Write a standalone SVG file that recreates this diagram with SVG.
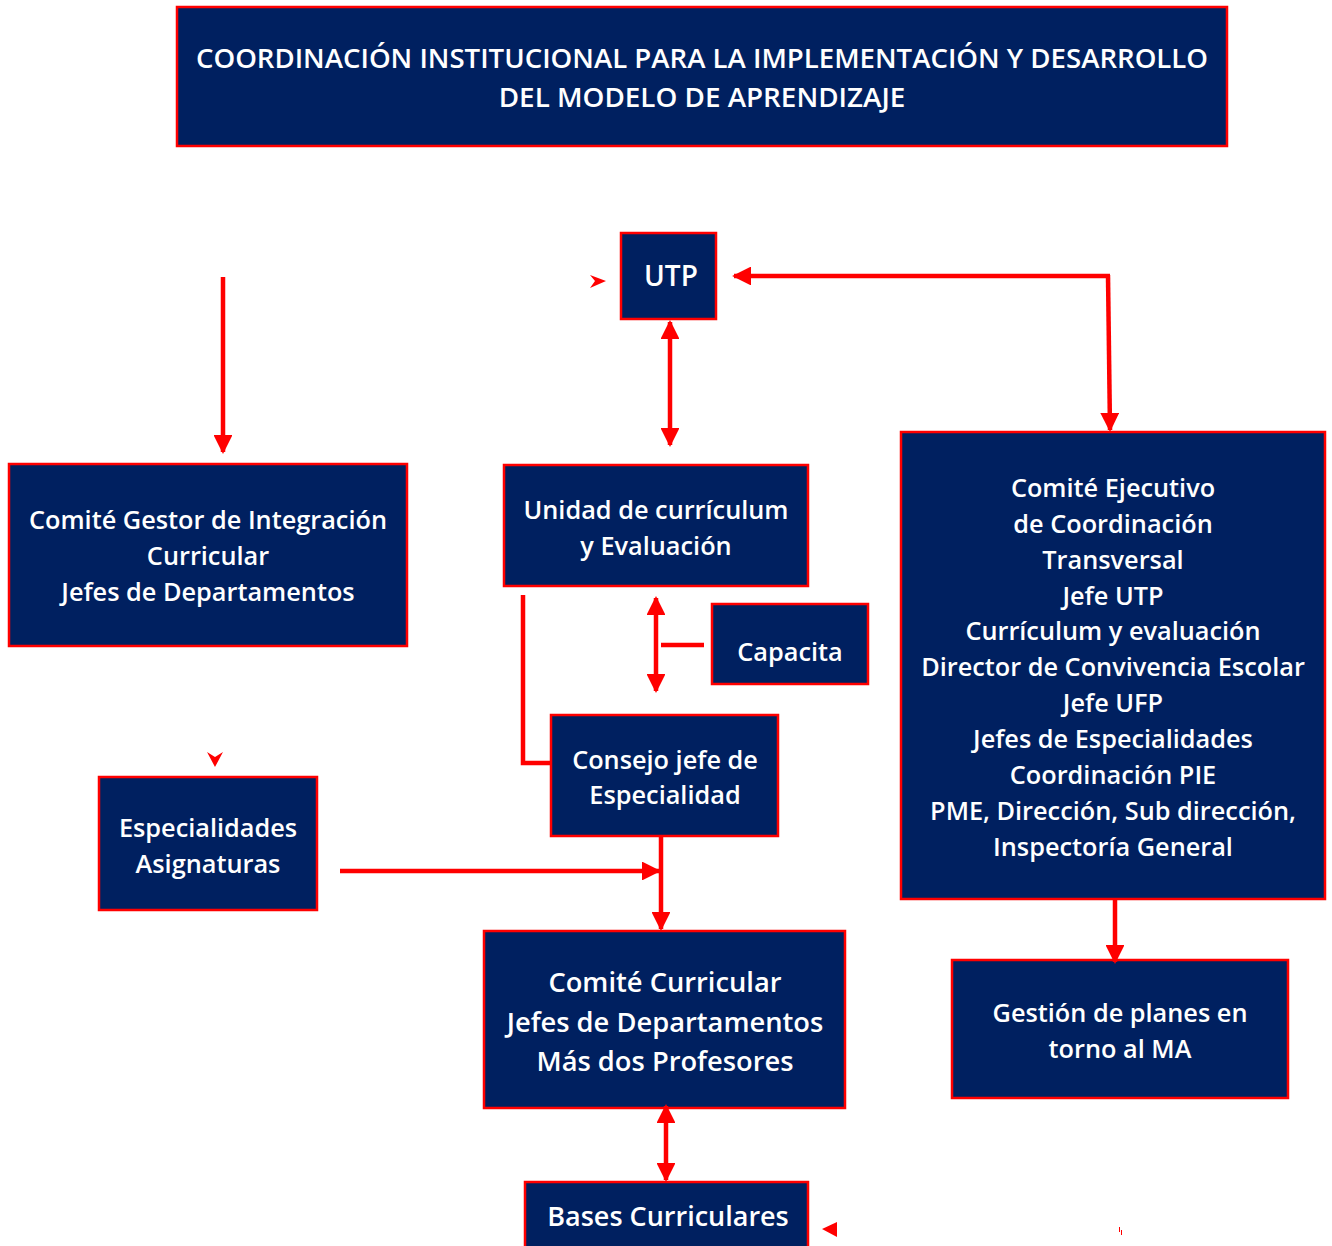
<svg xmlns="http://www.w3.org/2000/svg" width="1332" height="1246" viewBox="0 0 1332 1246">
<style>
.box{fill:#002060;stroke:#ff0000;stroke-width:2.5}
.t{font-family:"Open Sans","Noto Sans","DejaVu Sans",sans-serif;font-weight:600;fill:#ffffff;text-anchor:middle}
.c{stroke:#ff0000;stroke-width:4.5;fill:none}
.h{fill:#ff0000}
</style>
<defs>
<marker id="ah" viewBox="0 0 10 10" refX="9" refY="5" markerWidth="4.2" markerHeight="4.2" orient="auto-start-reverse">
<path d="M0,0 L10,5 L0,10 z" fill="#ff0000"/>
</marker>
</defs>
<rect width="1332" height="1246" fill="#ffffff"/>
<g id="title">
<rect class="box" x="177" y="7" width="1050" height="139"/>
<text class="t" x="702" y="68" font-size="27.6">COORDINACIÓN INSTITUCIONAL PARA LA IMPLEMENTACIÓN Y DESARROLLO</text>
<text class="t" x="702" y="107" font-size="27.8">DEL MODELO DE APRENDIZAJE</text>
</g>
<g id="utp">
<rect class="box" x="621" y="233" width="95" height="86"/>
<text class="t" x="671" y="286" font-size="28">UTP</text>
</g>
<g id="gestor">
<rect class="box" x="9" y="464" width="398" height="182"/>
<text class="t" font-size="25.3"><tspan x="208" y="529">Comité Gestor de Integración</tspan><tspan x="208" y="565">Curricular</tspan><tspan x="208" y="601">Jefes de Departamentos</tspan></text>
</g>
<g id="unidad">
<rect class="box" x="504" y="465" width="304" height="121"/>
<text class="t" font-size="25.3"><tspan x="656" y="519">Unidad de currículum</tspan><tspan x="656" y="555">y Evaluación</tspan></text>
</g>
<g id="capacita">
<rect class="box" x="712" y="604" width="156" height="80"/>
<text class="t" x="790" y="661" font-size="25.3">Capacita</text>
</g>
<g id="consejo">
<rect class="box" x="551" y="715" width="227" height="121"/>
<text class="t" font-size="25.3"><tspan x="665" y="769">Consejo jefe de</tspan><tspan x="665" y="804">Especialidad</tspan></text>
</g>
<g id="especialidades">
<rect class="box" x="99" y="777" width="218" height="133"/>
<text class="t" font-size="25.3"><tspan x="208" y="837">Especialidades</tspan><tspan x="208" y="873">Asignaturas</tspan></text>
</g>
<g id="curricular">
<rect class="box" x="484" y="931" width="361" height="177"/>
<text class="t" font-size="27.3"><tspan x="665" y="992">Comité Curricular</tspan><tspan x="665" y="1032">Jefes de Departamentos</tspan><tspan x="665" y="1071">Más dos Profesores</tspan></text>
</g>
<g id="bases">
<rect class="box" x="525" y="1182" width="283" height="70"/>
<text class="t" x="668" y="1226" font-size="27">Bases Curriculares</text>
</g>
<g id="ejecutivo">
<rect class="box" x="901" y="432" width="424" height="467"/>
<text class="t" font-size="25.3"><tspan x="1113" y="497">Comité Ejecutivo</tspan><tspan x="1113" y="533">de Coordinación</tspan><tspan x="1113" y="569">Transversal</tspan><tspan x="1113" y="605">Jefe UTP</tspan><tspan x="1113" y="640">Currículum y evaluación</tspan><tspan x="1113" y="676">Director de Convivencia Escolar</tspan><tspan x="1113" y="712">Jefe UFP</tspan><tspan x="1113" y="748">Jefes de Especialidades</tspan><tspan x="1113" y="784">Coordinación PIE</tspan><tspan x="1113" y="820">PME, Dirección, Sub dirección,</tspan><tspan x="1113" y="856">Inspectoría General</tspan></text>
</g>
<g id="gestion">
<rect class="box" x="952" y="960" width="336" height="138"/>
<text class="t" font-size="25.3"><tspan x="1120" y="1022">Gestión de planes en</tspan><tspan x="1120" y="1058">torno al MA</tspan></text>
</g>
<g id="connectors">
<polyline class="c" points="1108,275 1110,430" marker-end="url(#ah)"/>
<line class="c" x1="1110" y1="276" x2="734" y2="276" marker-end="url(#ah)"/>
<line class="c" x1="670" y1="322" x2="670" y2="445" marker-start="url(#ah)" marker-end="url(#ah)"/>
<line class="c" x1="223" y1="277" x2="223" y2="452" marker-end="url(#ah)"/>
<line class="c" x1="656" y1="598" x2="656" y2="691" marker-start="url(#ah)" marker-end="url(#ah)"/>
<line class="c" x1="661" y1="645" x2="704" y2="645"/>
<polyline class="c" points="523,595 523,763 551,763"/>
<line class="c" x1="340" y1="871" x2="659" y2="871" marker-end="url(#ah)"/>
<line class="c" x1="661" y1="836" x2="661" y2="929" marker-end="url(#ah)"/>
<line class="c" x1="666" y1="1106" x2="666" y2="1180" marker-start="url(#ah)" marker-end="url(#ah)"/>
<line class="c" x1="1115" y1="899" x2="1115" y2="962" marker-end="url(#ah)"/>
<path class="h" d="M590,275 L606,281 L590,288 L595,281 z"/>
<path class="h" d="M207,752 L215,767 L223,752 L215,757 z"/>
<path class="h" d="M822,1229 L837,1222 L837,1237 z"/>
<path d="M1119.5,1227 L1119.5,1232 M1121.5,1230 L1121.5,1235" stroke="#ff0000" stroke-width="1"/>
</g>
</svg>
